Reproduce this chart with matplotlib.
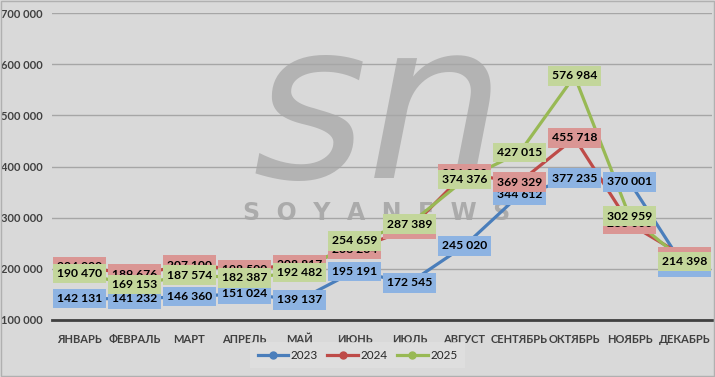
import matplotlib
matplotlib.use("Agg")
import matplotlib.pyplot as plt
from matplotlib.ticker import FuncFormatter, MultipleLocator

plt.rcParams['font.family'] = ['Lato', 'DejaVu Sans']

months = ["ЯНВАРЬ", "ФЕВРАЛЬ", "МАРТ", "АПРЕЛЬ", "МАЙ", "ИЮНЬ", "ИЮЛЬ",
          "АВГУСТ", "СЕНТЯБРЬ", "ОКТЯБРЬ", "НОЯБРЬ", "ДЕКАБРЬ"]
y2023 = [142131, 141232, 146360, 151024, 139137, 195191, 172545,
         245020, 344612, 377235, 370001, 203000]
y2024 = [204000, 189676, 207100, 198500, 208817, 238264, 278000,
         386000, 369329, 455718, 288000, 224000]
y2025 = [190470, 169153, 187574, 182387, 192482, 254659, 287389,
         374376, 427015, 576984, 302959, 214398]

series = [
    ("2023", y2023, "#4a7ebb", "#8db3e2"),
    ("2024", y2024, "#be4b48", "#da9694"),
    ("2025", y2025, "#98b954", "#c3d69b"),
]

BG = "#d9d9d9"

fig = plt.figure(figsize=(7.15, 3.77), dpi=100, facecolor=BG)
ax = fig.add_axes([52 / 715, 1 - 320 / 377, 660 / 715, 307 / 377])
ax.set_facecolor(BG)

x = list(range(len(months)))

# watermark
ax.text(0.53, 0.69, "sn", transform=fig.transFigure, fontsize=158,
        style="italic", color="#b3b3b3", ha="center",
        va="center", family="DejaVu Sans", zorder=0.5)
ax.text(0.527, 0.435, "S  O  Y  A  N  E  W  S", transform=fig.transFigure,
        fontsize=17, weight="bold", color="#ababab", ha="center", va="center",
        family="DejaVu Sans", zorder=0.5)

for i, (name, vals, col, lab) in enumerate(series):
    ax.plot(x, vals, color=col, lw=2.3, marker="o", ms=10, label=name,
            zorder=3 + i)

for i, (name, vals, col, lab) in enumerate(series):
    for xi, v in zip(x, vals):
        ax.text(xi, v, f"{v:,}".replace(",", " "), ha="center", va="center",
                fontsize=8.7, weight="bold", color="black", zorder=10 + i,
                bbox=dict(boxstyle="square,pad=0.35", fc=lab, ec="none"))

ax.set_xlim(-0.5, 11.5)
ax.set_ylim(100000, 700000)
ax.yaxis.set_major_locator(MultipleLocator(100000))
ax.yaxis.set_major_formatter(FuncFormatter(lambda v, p: f"{int(v):,}".replace(",", " ")))
ax.set_xticks(x)
ax.set_xticklabels(months, fontsize=8, weight="bold", color="#404040")
ax.tick_params(axis="y", labelsize=8, colors="#404040", length=0, pad=7)
ax.tick_params(axis="x", length=0, pad=10)
for lbl in ax.get_yticklabels():
    lbl.set_fontweight("bold")
ax.grid(axis="y", color="#a6a6a6", lw=1)
ax.set_axisbelow(True)
for s in ["top", "right", "left"]:
    ax.spines[s].set_visible(False)
ax.spines["bottom"].set_color("#404040")
ax.spines["bottom"].set_linewidth(2)

leg = fig.legend(loc="center", bbox_to_anchor=(0.50, 0.058), ncol=3,
                 frameon=True, fontsize=8.5, handlelength=2.6,
                 handletextpad=0.2, columnspacing=0.8, markerscale=0.5,
                 borderpad=0.35)
leg.get_frame().set_facecolor("#e0e0e0")
leg.get_frame().set_edgecolor("none")
leg.get_frame().set_boxstyle("square")
for t in leg.get_texts():
    t.set_color("#262626")

# outer frame
fig.patches.append(plt.Rectangle((0.001, 0.002), 0.997, 0.995,
                                 transform=fig.transFigure, fill=False,
                                 ec="#b0b0b0", lw=1))

fig.savefig("out.png", dpi=100, facecolor=BG)
